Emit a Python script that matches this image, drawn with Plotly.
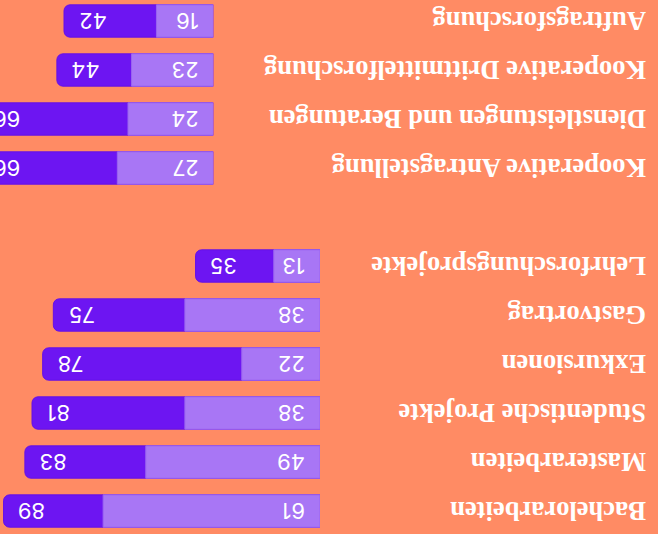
import plotly.graph_objects as go

# ---- data ----
top_categories = ["Auftragsforschung", "Kooperative Drittmittelforschung",
                  "Dienstleistungen und Beratungen", "Kooperative Antragstellung"]
top_light = [16, 23, 24, 27]
top_dark = [42, 44, 66, 66]

bottom_categories = ["Lehrforschungsprojekte", "Gastvortrag", "Exkursionen",
                     "Studentische Projekte", "Masterarbeiten", "Bachelorarbeiten"]
bottom_light = [13, 38, 22, 38, 49, 61]
bottom_dark = [35, 75, 78, 81, 83, 89]

spacer = " "
category_order = top_categories + [spacer] + bottom_categories

# ---- style ----
BG = "#FF8B64"
LIGHT = "#A876F5"
LIGHT_LINE = "#9A64F0"
DARK = "#6D15F2"
DARK_LINE = "#6410E6"
W = 658
H = 534
X_MAX = 90
X2_MAX = 60
X_PX = 320          # pixel width of the bottom panel
PX_PER_UNIT = X_PX / X_MAX
X2_PX = X2_MAX * PX_PER_UNIT
PAD = 13

fig = go.Figure()

def add_group(cats, light, dark, xaxis):
    fig.add_trace(go.Bar(y=cats, x=dark, orientation="h", xaxis=xaxis, yaxis="y",
                         marker=dict(color=DARK, line=dict(color=DARK_LINE, width=1)),
                         width=0.66, hoverinfo="skip", showlegend=False))
    fig.add_trace(go.Bar(y=cats, x=light, orientation="h", xaxis=xaxis, yaxis="y",
                         marker=dict(color=LIGHT, line=dict(color=LIGHT_LINE, width=1)),
                         width=0.66, hoverinfo="skip", showlegend=False))

add_group(bottom_categories, bottom_light, bottom_dark, "x")
add_group(top_categories, top_light, top_dark, "x2")

annotations = []
val_font = dict(family="Inter", size=22, color="#FFFFFF")
for cats, light, dark, ref, xmax in [(bottom_categories, bottom_light, bottom_dark, "x", X_MAX),
                                     (top_categories, top_light, top_dark, "x2", X2_MAX)]:
    for c, lv, dv in zip(cats, light, dark):
        # light value: at bar base
        annotations.append(dict(x=0, y=c, xref=ref, yref="y", text=str(lv),
                                showarrow=False, textangle=180, xanchor="right",
                                yanchor="middle", xshift=-PAD, font=val_font))
        if dv <= xmax:
            annotations.append(dict(x=dv, y=c, xref=ref, yref="y", text=str(dv),
                                    showarrow=False, textangle=180, xanchor="left",
                                    yanchor="middle", xshift=PAD, font=val_font))
        else:
            # tip lies beyond the visible range: anchor the text via an invisible arrow tail
            # (with a 180° text angle the arrow-mode anchor is mirrored)
            annotations.append(dict(x=0, y=c, xref=ref, yref="y",
                                    ax=dv - PAD / PX_PER_UNIT, ay=c,
                                    axref=ref, ayref="y", text=str(dv),
                                    showarrow=True, arrowcolor="rgba(0,0,0,0)",
                                    arrowwidth=0.1, textangle=180, xanchor="right",
                                    yanchor="middle", font=val_font))

label_font = dict(family="Liberation Serif", size=26.5, color="#FFFFFF")
for c in top_categories + bottom_categories:
    annotations.append(dict(x=648 / W, y=c, xref="paper", yref="y",
                            text="<b>%s</b>" % c, showarrow=False, textangle=180,
                            xanchor="right", yanchor="middle", font=label_font))

fig.update_layout(
    width=W, height=H,
    margin=dict(l=0, r=0, t=0, b=0),
    paper_bgcolor=BG, plot_bgcolor="rgba(0,0,0,0)",
    barmode="overlay", barcornerradius=6,
    xaxis=dict(domain=[0, X_PX / W], range=[X_MAX, 0], visible=False, anchor="y"),
    xaxis2=dict(domain=[0, X2_PX / W], range=[X2_MAX, 0], visible=False, anchor="y"),
    yaxis=dict(type="category", categoryorder="array", categoryarray=category_order,
               range=[10.469, -0.4286], visible=False),
    annotations=annotations,
)

fig.write_html("out.html", config={"displayModeBar": False},
               post_script="document.body.style.margin='0';document.body.style.overflow='hidden';")
